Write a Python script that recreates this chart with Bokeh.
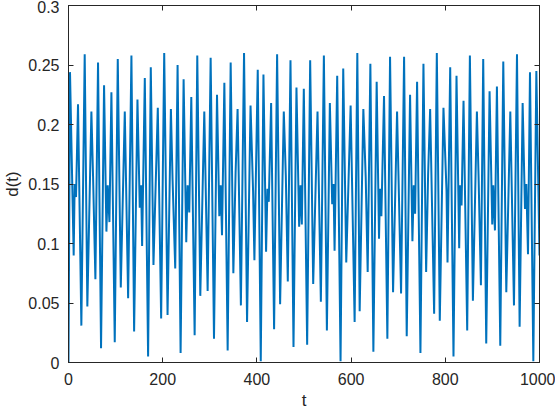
from bokeh.plotting import figure
from bokeh.models import FixedTicker, LinearAxis, Range1d
from bokeh.embed import file_html
from bokeh.resources import INLINE

t = [0, 3.2, 11, 13.1, 16, 20.2, 27.3, 34.4, 40, 48.6, 52.1, 57.1, 62.7, 69.1, 75.5,
     80.5, 83.3, 86.9, 91.1, 98.2, 104.6, 111, 119.5, 126.6, 133.6, 139.3, 146.4,
     151.3, 154.2, 156.3, 162, 169, 174.7, 180.4, 189.6, 196.7,
     203.2, 210.3, 217.4, 221.0, 226.6, 231.6, 238.0, 244.4, 250.0, 252.9, 256.4,
     260.7, 267.8, 273.4, 279.8, 288.3, 295.4, 301.8, 308.9, 315.3, 320.2, 323.1,
     325.9, 330.9, 337.9, 344.3, 350.0, 354.8, 359.0, 366.0, 372.7, 379.1, 386.5,
     391.9, 394.7, 401.8, 408.2, 413.9, 419.5, 422.4, 425.2, 430.2, 436.5, 442.9,
     449.3, 457.1, 461.4, 465.6, 471.3, 477.7, 484.0, 489.7, 492.6, 495.4, 499.6,
     506.7, 513.1, 519.5, 528.7, 535.8, 542.2, 548.6, 554.9, 559.9, 562.7, 564.9,
     570.5, 577.6, 583.3, 589.7, 599.0,
     607.5, 613.2, 618.2, 626.0, 631.0, 635.2, 640.9, 647.3, 654.3, 659.3, 661.4,
     664.3, 669.9, 677.0, 682.7, 689.1, 697.6, 706.1, 712.5, 718.1, 725.2, 730.2,
     733.0, 735.9, 740.1, 747.2, 753.6, 759.3, 763.5, 767.8, 776.3, 782.0, 788.3,
     796.1, 802.6, 804.7, 810.4, 817.4, 823.8, 829.5, 831.6, 834.5, 838.7, 846.5,
     852.2, 858.6, 867.1, 870.6, 875.6, 880.5, 886.9, 894.0, 899.7, 901.8, 905.4,
     909.6, 916.7, 923.1, 929.5, 938.0, 945.8, 952.2, 957.8, 964.2, 969.2, 972.0,
     975.6, 979.8, 986.9, 993.3, 1000]
d = [0, 0.244, 0.090, 0.150, 0.139, 0.217, 0.031, 0.259, 0.047, 0.211, 0.157, 0.070,
     0.252, 0.012, 0.233, 0.110, 0.149, 0.118, 0.227, 0.017, 0.255, 0.063, 0.211,
     0.054, 0.258, 0.026, 0.221, 0.130, 0.149, 0.098, 0.239, 0.005, 0.248, 0.082,
     0.214, 0.037,
     0.260, 0.040, 0.213, 0.153, 0.079, 0.250, 0.008, 0.238, 0.101, 0.149, 0.126,
     0.223, 0.023, 0.258, 0.056, 0.211, 0.060, 0.256, 0.020, 0.225, 0.123, 0.149,
     0.107, 0.235, 0.010, 0.252, 0.075, 0.160, 0.213, 0.048, 0.260, 0.034, 0.216,
     0.144, 0.086, 0.246, 0.001, 0.242, 0.093, 0.146, 0.135, 0.218, 0.028, 0.259,
     0.049, 0.211, 0.157, 0.068, 0.254, 0.013, 0.231, 0.114, 0.149, 0.116, 0.230,
     0.015, 0.254, 0.066, 0.211, 0.051, 0.258, 0.027, 0.218, 0.133, 0.150, 0.094,
     0.241, 0.001, 0.247, 0.084, 0.216,
     0.034, 0.260, 0.043, 0.213, 0.156, 0.076, 0.251, 0.009, 0.236, 0.104, 0.146,
     0.123, 0.224, 0.020, 0.257, 0.059, 0.211, 0.058, 0.257, 0.022, 0.225, 0.102,
     0.149, 0.125, 0.236, 0.008, 0.251, 0.076, 0.158, 0.213, 0.041, 0.260, 0.035,
     0.214, 0.144, 0.084, 0.248, 0.005, 0.241, 0.096, 0.149, 0.132, 0.220, 0.027,
     0.258, 0.052, 0.211, 0.157, 0.065, 0.255, 0.016, 0.228, 0.116, 0.149, 0.111,
     0.232, 0.014, 0.253, 0.059, 0.211, 0.048, 0.259, 0.030, 0.218, 0.129, 0.150,
     0.091, 0.244, 0.001, 0.245, 0.090]

x_ticks = [0, 200, 400, 600, 800, 1000]
y_ticks = [0, 0.05, 0.1, 0.15, 0.2, 0.25, 0.3]
y_tick_labels = ["0", "0.05", "0.1", "0.15", "0.2", "0.25", "0.3"]

FONT = "Liberation Sans"
AX = "#262626"

p = figure(frame_width=471, frame_height=357, x_range=Range1d(0, 1000), y_range=Range1d(0, 0.3),
           output_backend="svg", toolbar_location=None,
           min_border_left=63, min_border_right=16, min_border_top=5, min_border_bottom=10)
p.background_fill_color = "white"
p.border_fill_color = "white"
p.outline_line_color = AX
p.outline_line_width = 1
p.grid.visible = False

p.line(t, d, line_color="#0072BD", line_width=2)

def style(ax, labels=True):
    ax.axis_line_color = AX
    ax.major_tick_line_color = AX
    ax.major_tick_in = 5
    ax.major_tick_out = 0
    ax.minor_tick_line_color = None
    ax.major_label_text_font = FONT
    ax.major_label_text_font_size = "16px" if labels else "0px"
    ax.major_label_text_color = AX
    ax.axis_label_text_font = FONT
    ax.axis_label_text_font_size = "17px"
    ax.axis_label_text_font_style = "normal"
    ax.axis_label_text_color = AX

xa = p.xaxis[0]
xa.ticker = FixedTicker(ticks=x_ticks)
xa.axis_label = "t"
xa.major_label_standoff = 10
xa.axis_label_standoff = 3
style(xa)

ya = p.yaxis[0]
ya.ticker = FixedTicker(ticks=y_ticks)
ya.major_label_overrides = {v: s for v, s in zip(y_ticks, y_tick_labels)}
ya.axis_label = "d(t)"
ya.major_label_standoff = 9
ya.axis_label_standoff = 3
style(ya)

ra = LinearAxis(ticker=FixedTicker(ticks=y_ticks), major_label_standoff=0)
style(ra, labels=False)
p.add_layout(ra, "right")
ta = LinearAxis(ticker=FixedTicker(ticks=x_ticks), major_label_standoff=0)
style(ta, labels=False)
p.add_layout(ta, "above")

open("out.html", "w").write(file_html(p, INLINE))
